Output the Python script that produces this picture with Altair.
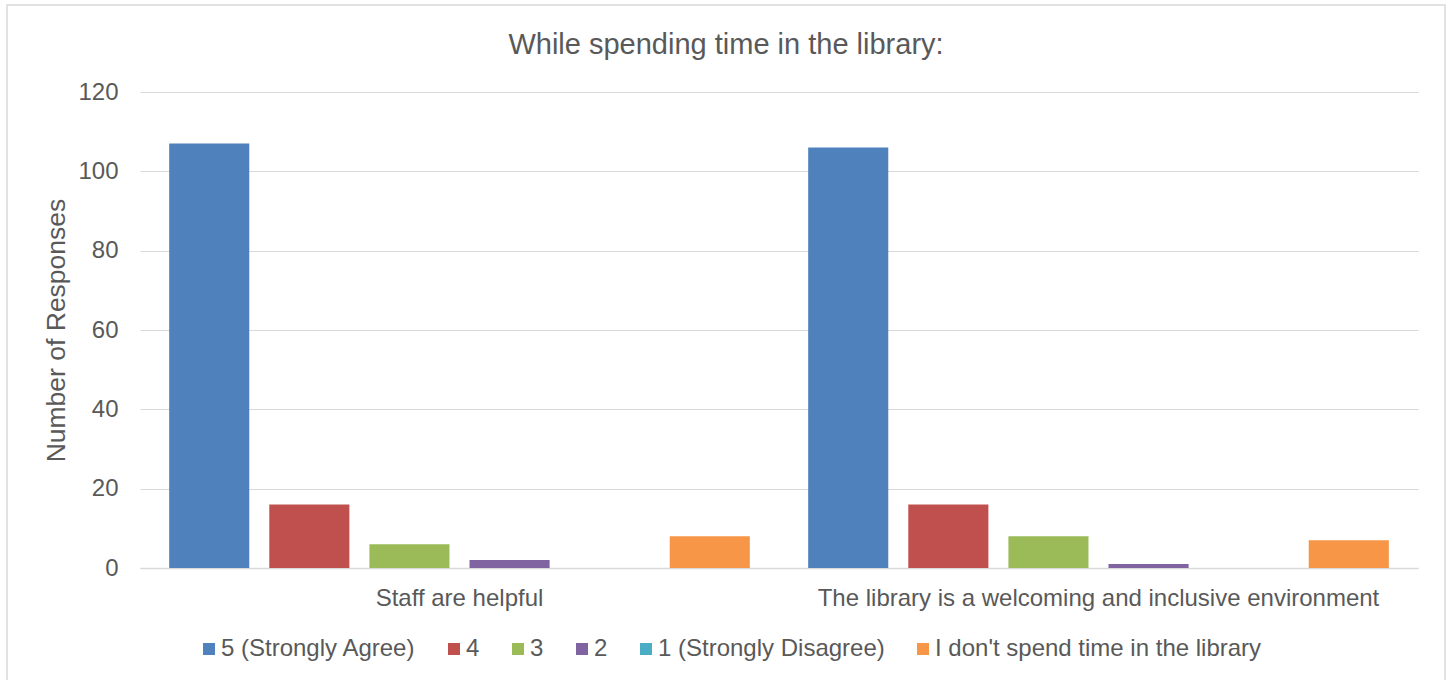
import altair as alt
import pandas as pd

categories = ["Staff are helpful", "The library is a welcoming and inclusive environment"]
series = ["5 (Strongly Agree)", "4", "3", "2", "1 (Strongly Disagree)", "I don't spend time in the library"]
staff_values = [107, 16, 6, 2, 0, 8]
library_values = [106, 16, 8, 1, 0, 7]
colors = ["#4F81BD", "#C0504D", "#9BBB59", "#8064A2", "#4BACC6", "#F79646"]
y_ticks = [0, 20, 40, 60, 80, 100, 120]

rows = []
for cat, vals in zip(categories, [staff_values, library_values]):
    for s, v in zip(series, vals):
        rows.append({"Question": cat, "Response": s, "Count": v})
df = pd.DataFrame(rows)

FONT = "Liberation Sans"
GRAY = "#595959"

bars = alt.Chart(df).mark_bar().encode(
    x=alt.X("Question:N", sort=categories,
            scale=alt.Scale(paddingInner=0.06, paddingOuter=0.03),
            axis=alt.Axis(title=None, labelAngle=0, ticks=False, domain=True,
                          domainColor="#D9D9D9", domainWidth=1.5,
                          labelFont=FONT, labelFontSize=24, labelColor=GRAY,
                          labelPadding=18, labelLimit=0)),
    xOffset=alt.XOffset("Response:N", sort=series,
                        scale=alt.Scale(paddingInner=0.2, paddingOuter=0.1)),
    y=alt.Y("Count:Q", scale=alt.Scale(domain=[0, 120], nice=False),
            axis=alt.Axis(title="Number of Responses", values=y_ticks,
                          domain=False, ticks=False, gridColor="#D9D9D9",
                          gridWidth=1.2, labelFont=FONT, labelFontSize=24,
                          labelColor=GRAY, labelPadding=22,
                          titleFont=FONT, titleFontSize=26.5, titleColor=GRAY,
                          titleFontWeight="normal", titlePadding=7)),
    color=alt.Color("Response:N", sort=series,
                    scale=alt.Scale(domain=series, range=colors),
                    legend=alt.Legend(title=None, orient="none", direction="horizontal",
                                      legendX=57, legendY=545, columns=6,
                                      symbolType="square", symbolSize=144,
                                      symbolStrokeWidth=0, labelFont=FONT,
                                      labelFontSize=24, labelColor=GRAY,
                                      labelOffset=0, columnPadding=26,
                                      labelLimit=0)),
)

frame = alt.Chart(pd.DataFrame({"f": [0]})).mark_rect(
    fill="white", fillOpacity=0, stroke="#D9D9D9", strokeWidth=1.5
).encode(
    x=alt.value(-133), x2=alt.value(1305),
    y=alt.value(-87), y2=alt.value(620),
)

chart = alt.layer(frame, bars).properties(
    width=1278, height=476,
    background="white",
    title=alt.TitleParams("While spending time in the library:", font=FONT,
                          fontSize=29, fontWeight="normal", color=GRAY,
                          anchor="middle", frame="bounds", offset=20, dy=76),
    autosize=alt.AutoSizeParams(type="none"),
    padding={"left": 140, "top": 92, "right": 30, "bottom": 112},
).configure_view(stroke=None)

chart.save("out.html", embed_options={"renderer": "svg", "actions": False})
